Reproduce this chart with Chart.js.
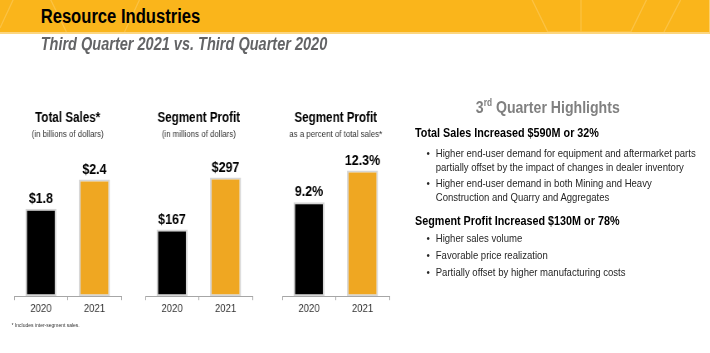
<!DOCTYPE html>
<html>
<head>
<meta charset="utf-8">
<script src="https://cdn.jsdelivr.net/npm/chart.js@4"></script>
<style>
  body { margin: 0; width: 710px; height: 353px; background: #fff; overflow: hidden; position: relative; }
  /* the slide is laid out wide and then squeezed to look like the condensed original */
  #slide { position: absolute; left: 0; top: 0; width: 855px; height: 353px; transform: scaleX(0.83); transform-origin: 0 0;
           font-family: "Liberation Sans", Arial, sans-serif; }
  #band { position: absolute; left: 0; top: 0; width: 855px; height: 32px; background: #fab51b;
          border-bottom: 2px solid #fcd680; overflow: hidden; }
  #title { position: absolute; left: 49px; top: 5px; font: bold 20px "Liberation Sans", Arial, sans-serif; color: #000; }
  #sub { position: absolute; left: 49px; top: 34px; font: italic bold 17.5px "Liberation Sans", Arial, sans-serif; color: #636466; }
  canvas { position: absolute; }
  #foot { position: absolute; left: 14px; top: 322px; font-size: 6px; color: #333; }
  #hl { position: absolute; left: 560px; top: 97px; width: 200px; text-align: center; font-weight: bold; font-size: 17px; color: #808080; }
  #hl sup { font-size: 10px; }
  .h2 { position: absolute; left: 500px; font-weight: bold; font-size: 13px; color: #000; white-space: nowrap; }
  ul { position: absolute; left: 514px; margin: 0; padding: 0; list-style: none; font-size: 11.5px; color: #262626; line-height: 14px; white-space: nowrap; }
  li { position: relative; padding-left: 11px; }
  li:before { content: "\2022"; position: absolute; left: 0; }
</style>
</head>
<body>
<div id="slide">
  <div id="band">
    <svg width="855" height="32" style="position:absolute;left:0;top:0">
      <g fill="none" stroke="#fdd06a" stroke-width="1.5" opacity="0.5">
        <path d="M0 28 L18 -4 M60 -2 L80 32 M150 32 L168 0 M640 -2 L660 32 L760 32 L780 -2 M800 32 L820 0 M700 0 L700 32"/>
      </g>
    </svg>
  </div>
  <div id="title">Resource Industries</div>
  <div id="sub">Third Quarter 2021 vs. Third Quarter 2020</div>

  <canvas id="c1" width="149" height="218" style="left:7px;top:100px;width:149px;height:218px"></canvas>
  <canvas id="c2" width="149" height="218" style="left:165px;top:100px;width:149px;height:218px"></canvas>
  <canvas id="c3" width="149" height="218" style="left:330px;top:100px;width:149px;height:218px"></canvas>
  <div id="foot">* Includes inter-segment sales.</div>

  <div id="hl">3<sup>rd</sup> Quarter Highlights</div>
  <div class="h2" style="top:125px">Total Sales Increased $590M or 32%</div>
  <ul style="top:146px">
    <li style="margin-bottom:2px">Higher end-user demand for equipment and aftermarket parts<br>partially offset by the impact of changes in dealer inventory</li>
    <li>Higher end-user demand in both Mining and Heavy<br>Construction and Quarry and Aggregates</li>
  </ul>
  <div class="h2" style="top:213px">Segment Profit Increased $130M or 78%</div>
  <ul style="top:231px">
    <li style="margin-bottom:3px">Higher sales volume</li>
    <li style="margin-bottom:3px">Favorable price realization</li>
    <li>Partially offset by higher manufacturing costs</li>
  </ul>
</div>

<script>
const years = ["2020", "2021"];
const salesValues = [1.8, 2.4];
const salesLabels = ["$1.8", "$2.4"];
const profitValues = [167, 297];
const profitLabels = ["$167", "$297"];
const marginValues = [9.2, 12.3];
const marginLabels = ["9.2%", "12.3%"];

const FONT = "'Liberation Sans', Arial, sans-serif";
Chart.defaults.font.family = FONT;

// draws the value above each bar
const valueLabels = {
  id: "valueLabels",
  afterDatasetsDraw(chart, args, opts) {
    const ctx = chart.ctx;
    const meta = chart.getDatasetMeta(0);
    ctx.save();
    ctx.font = "bold 15px " + FONT;
    ctx.fillStyle = "#000";
    ctx.textAlign = "center";
    ctx.textBaseline = "middle";
    meta.data.forEach((bar, i) => ctx.fillText(opts.labels[i], bar.x, bar.y - 10));
    ctx.restore();
  }
};

function makeChart(id, values, labels, max, title, subtitle) {
  return new Chart(document.getElementById(id), {
    type: "bar",
    data: {
      labels: years,
      datasets: [{
        data: values,
        backgroundColor: ["#000000", "#efa722"],
        borderColor: "#d6d6d6",
        borderWidth: 2,
        borderSkipped: false,
        barPercentage: 0.58,
        categoryPercentage: 1
      }]
    },
    plugins: [valueLabels],
    options: {
      responsive: false,
      animation: false,
      devicePixelRatio: 1,
      layout: { padding: { left: 10, right: 10, top: 0, bottom: 0 } },
      plugins: {
        legend: { display: false },
        tooltip: { enabled: false },
        title: { display: true, text: title, color: "#000", font: { size: 14, weight: "bold" }, padding: { top: 10, bottom: 2 } },
        subtitle: { display: true, text: subtitle, color: "#333", font: { size: 9.5 }, padding: { top: 0, bottom: 12 } },
        valueLabels: { labels: labels }
      },
      scales: {
        x: {
          grid: { drawOnChartArea: false, drawTicks: true, tickLength: 4, color: "#a6a6a6", offset: true },
          border: { display: true, color: "#a6a6a6" },
          ticks: { color: "#333", font: { size: 11.5 }, padding: 2 }
        },
        y: { display: false, min: 0, max: max }
      }
    }
  });
}

makeChart("c1", salesValues, salesLabels, 2.96, "Total Sales*", "(in billions of dollars)");
makeChart("c2", profitValues, profitLabels, 360, "Segment Profit", "(in millions of dollars)");
makeChart("c3", marginValues, marginLabels, 14.1, "Segment Profit", "as a percent of total sales*");
</script>
</body>
</html>
